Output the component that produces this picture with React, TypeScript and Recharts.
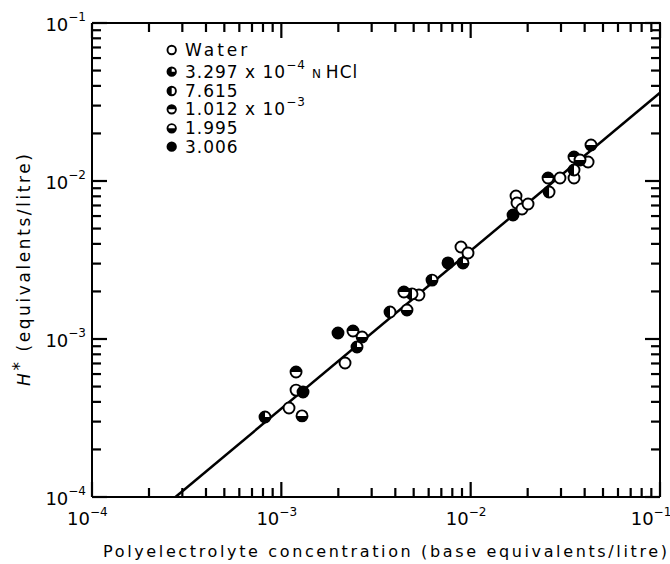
import React from 'react';
import { ScatterChart, Scatter, XAxis, YAxis, Label } from 'recharts';

type Pt = { c: number; h: number };

// Polyelectrolyte concentration (c) vs H* for each supporting acid level
const water: Pt[] = [
  { c: 1.098e-3, h: 3.66e-4 }, { c: 1.196e-3, h: 4.75e-4 }, { c: 2.17e-3, h: 7.05e-4 },
  { c: 5.33e-3, h: 1.9e-3 }, { c: 8.89e-3, h: 3.82e-3 }, { c: 9.68e-3, h: 3.5e-3 },
  { c: 1.736e-2, h: 8.04e-3 }, { c: 1.757e-2, h: 7.26e-3 }, { c: 1.867e-2, h: 6.65e-3 },
  { c: 2.009e-2, h: 7.15e-3 }, { c: 2.963e-2, h: 1.045e-2 }, { c: 3.514e-2, h: 1.045e-2 },
  { c: 4.17e-2, h: 1.319e-2 },
];
const hcl3297: Pt[] = [
  { c: 8.2e-4, h: 3.21e-4 }, { c: 2.51e-3, h: 8.9e-4 }, { c: 6.25e-3, h: 2.36e-3 },
  { c: 9.11e-3, h: 3.03e-3 },
];
const hcl7615: Pt[] = [
  { c: 3.75e-3, h: 1.482e-3 }, { c: 4.9e-3, h: 1.93e-3 }, { c: 2.594e-2, h: 8.52e-3 },
  { c: 3.514e-2, h: 1.174e-2 },
];
const hcl1012: Pt[] = [
  { c: 1.196e-3, h: 6.18e-4 }, { c: 2.39e-3, h: 1.124e-3 }, { c: 4.44e-3, h: 1.984e-3 },
  { c: 2.563e-2, h: 1.045e-2 }, { c: 3.514e-2, h: 1.418e-2 },
];
const hcl1995: Pt[] = [
  { c: 1.286e-3, h: 3.26e-4 }, { c: 2.67e-3, h: 1.03e-3 }, { c: 4.61e-3, h: 1.526e-3 },
  { c: 3.78e-2, h: 1.358e-2 }, { c: 4.32e-2, h: 1.69e-2 },
];
const hcl3006: Pt[] = [
  { c: 1.302e-3, h: 4.62e-4 }, { c: 1.992e-3, h: 1.092e-3 }, { c: 7.59e-3, h: 3.03e-3 },
  { c: 1.674e-2, h: 6.09e-3 },
];

// Fitted straight line (unit slope on log-log axes)
const fitLine: Pt[] = [
  { c: 2.76e-4, h: 1.0e-4 },
  { c: 1.0e-1, h: 3.62e-2 },
];

// Axis ticks: decades plus 2..9 minor steps
const decades = [1e-4, 1e-3, 1e-2, 1e-1];
const minorSteps = [2, 3, 4, 5, 6, 7, 8, 9];
const decadeExponents = ['−4', '−3', '−2', '−1'];
const allTicks: number[] = [];
decades.forEach((d, i) => {
  allTicks.push(d);
  if (i < decades.length - 1) minorSteps.forEach((m) => allTicks.push(d * m));
});
const LO = decades[0];
const HI = decades[decades.length - 1];

// Top and right edges of the frame, plus anchor points for their tick marks
const frameCorners: Pt[] = [{ c: LO, h: HI }, { c: HI, h: HI }, { c: HI, h: LO }];
const topEdge: Pt[] = allTicks.map((v) => ({ c: v, h: HI }));
const rightEdge: Pt[] = allTicks.map((v) => ({ c: HI, h: v }));

const FONT = '"DejaVu Sans", sans-serif';
const CHART_W = 670;
const CHART_H = 564;
const MAJOR_LEN = 15;
const MINOR_LEN = 9;
const TICK_W = 2.2;
const INK = '#000';

const majorIndex = (v: number) => decades.findIndex((d) => Math.abs(v / d - 1) < 1e-6);
const tickLen = (v: number) => (majorIndex(v) >= 0 ? MAJOR_LEN : MINOR_LEN);

type Kind = 'open' | 'threeq' | 'left' | 'top' | 'bottom' | 'full';

function Marker({ cx, cy, kind, r = 5.5 }: { cx: number; cy: number; kind: Kind; r?: number }) {
  if (cx == null || cy == null) return null;
  let d: string | null = null;
  if (kind === 'left') d = `M${cx},${cy - r} A${r},${r} 0 0 0 ${cx},${cy + r} Z`;
  if (kind === 'top') d = `M${cx - r},${cy} A${r},${r} 0 0 1 ${cx + r},${cy} Z`;
  if (kind === 'bottom') d = `M${cx - r},${cy} A${r},${r} 0 0 0 ${cx + r},${cy} Z`;
  if (kind === 'threeq') d = `M${cx},${cy} L${cx},${cy - r} A${r},${r} 0 1 0 ${cx + r},${cy} Z`;
  return (
    <g>
      <circle cx={cx} cy={cy} r={r} fill={kind === 'full' ? '#000' : '#fff'} stroke="#000" strokeWidth={1.9} />
      {d && <path d={d} fill="#000" />}
    </g>
  );
}

const shapeOf = (kind: Kind) => (p: any) => <Marker cx={p.cx} cy={p.cy} kind={kind} />;

// Tick marks hanging down from the top edge / pointing left from the right edge
const topTickShape = (p: any) => {
  const len = tickLen(Number(p.payload?.c));
  return <rect x={p.cx - TICK_W / 2} y={p.cy} width={TICK_W} height={len} fill={INK} />;
};
const rightTickShape = (p: any) => {
  const len = tickLen(Number(p.payload?.h));
  return <rect x={p.cx - len} y={p.cy - TICK_W / 2} width={len} height={TICK_W} fill={INK} />;
};

const LABEL_FS = 18;
const SUP_FS = 12;
const TEN_W = 2 * 0.636 * LABEL_FS;
const SUP_W = 1.5 * 0.8 * SUP_FS;

// Bottom axis: inward tick plus decade label
function BottomTick(props: any) {
  const x = Number(props.x);
  const y = Number(props.y);
  const v = Number(props.payload?.value);
  const i = majorIndex(v);
  const len = tickLen(v);
  const start = Math.min(x - TEN_W - 2, CHART_W - TEN_W - SUP_W - 2);
  return (
    <g>
      <rect x={x - TICK_W / 2} y={y - len} width={TICK_W} height={len} fill={INK} />
      {i >= 0 && (
        <text x={start} y={y + 28} textAnchor="start" fontFamily={FONT} fontSize={LABEL_FS} fill="#000">
          10<tspan dy={-9} fontSize={SUP_FS}>{decadeExponents[i]}</tspan>
        </text>
      )}
    </g>
  );
}

// Left axis: inward tick plus decade label
function LeftTick(props: any) {
  const x = Number(props.x);
  const y = Number(props.y);
  const v = Number(props.payload?.value);
  const i = majorIndex(v);
  const len = tickLen(v);
  return (
    <g>
      <rect x={x} y={y - TICK_W / 2} width={len} height={TICK_W} fill={INK} />
      {i >= 0 && (
        <text x={x - 6} y={y + 8} textAnchor="end" fontFamily={FONT} fontSize={LABEL_FS} fill="#000">
          10<tspan dy={-10} fontSize={SUP_FS}>{decadeExponents[i]}</tspan>
        </text>
      )}
    </g>
  );
}

function XTitle({ viewBox }: any) {
  const cx = viewBox.x + viewBox.width / 2 + 9;
  return (
    <text
      x={cx}
      y={viewBox.y + 60}
      textAnchor="middle"
      fontFamily={FONT}
      fontSize={16}
      textLength={564}
      lengthAdjust="spacing"
      fill="#000"
    >
      Polyelectrolyte concentration (base equivalents/litre)
    </text>
  );
}

function YTitle({ viewBox }: any) {
  const cy = viewBox.y + viewBox.height / 2 + 10;
  const x = viewBox.x - 2;
  return (
    <text
      x={x}
      y={cy}
      transform={`rotate(-90 ${x} ${cy})`}
      textAnchor="middle"
      fontFamily={FONT}
      fontSize={17}
      textLength={232}
      lengthAdjust="spacing"
      fill="#000"
    >
      <tspan fontStyle="italic">H</tspan>
      <tspan dy={-5}>*</tspan>
      <tspan dy={5}> (equivalents/litre)</tspan>
    </text>
  );
}

type LegendRow = { kind: Kind; main: string; sup?: string; tail?: boolean; spacing?: number };
const legendRows: LegendRow[] = [
  { kind: 'open', main: 'Water', spacing: 3 },
  { kind: 'threeq', main: '3.297 x 10', sup: '−4', tail: true },
  { kind: 'left', main: '7.615' },
  { kind: 'top', main: '1.012 x 10', sup: '−3' },
  { kind: 'bottom', main: '1.995' },
  { kind: 'full', main: '3.006' },
];

function LegendBox() {
  const rowY = [12, 33.7, 53, 71.3, 90.3, 108.7];
  return (
    <svg
      width={230}
      height={125}
      style={{ position: 'absolute', left: 160, top: 38, overflow: 'visible', pointerEvents: 'none' }}
    >
      {legendRows.map((row, i) => (
        <g key={i}>
          <Marker cx={11.7} cy={rowY[i]} kind={row.kind} r={4.2} />
          <text
            x={25}
            y={rowY[i] + 6}
            fontFamily={FONT}
            fontSize={17}
            letterSpacing={row.spacing ?? 1}
            fill="#000"
          >
            {row.main}
            {row.sup && (
              <tspan dy={-9} fontSize={12}>
                {row.sup}
              </tspan>
            )}
            {row.tail && (
              <>
                <tspan dy={9} dx={6} fontSize={12}>N</tspan>
                <tspan dx={4}>HCl</tspan>
              </>
            )}
          </text>
        </g>
      ))}
    </svg>
  );
}

export default function App() {
  return (
    <div style={{ position: 'absolute', left: 0, top: 0, width: CHART_W, height: CHART_H }}>
      <ScatterChart width={CHART_W} height={CHART_H} margin={{ top: 23, right: 10, bottom: 37, left: 32 }}>
        <XAxis
          xAxisId="b"
          dataKey="c"
          type="number"
          scale="log"
          domain={[LO, HI]}
          ticks={allTicks}
          interval={0}
          height={30}
          tickSize={0}
          tickMargin={0}
          tickLine={false}
          tick={<BottomTick />}
          axisLine={{ stroke: '#000', strokeWidth: 2 }}
        >
          <Label content={<XTitle />} />
        </XAxis>
        <YAxis
          yAxisId="l"
          dataKey="h"
          type="number"
          scale="log"
          domain={[LO, HI]}
          ticks={allTicks}
          interval={0}
          width={60}
          tickSize={0}
          tickMargin={0}
          tickLine={false}
          tick={<LeftTick />}
          axisLine={{ stroke: '#000', strokeWidth: 2 }}
        >
          <Label content={<YTitle />} />
        </YAxis>
        <Scatter
          xAxisId="b"
          yAxisId="l"
          data={frameCorners}
          line={{ stroke: '#000', strokeWidth: 2 }}
          shape={() => <g />}
          isAnimationActive={false}
        />
        <Scatter xAxisId="b" yAxisId="l" data={topEdge} shape={topTickShape} isAnimationActive={false} />
        <Scatter xAxisId="b" yAxisId="l" data={rightEdge} shape={rightTickShape} isAnimationActive={false} />
        <Scatter
          xAxisId="b"
          yAxisId="l"
          data={fitLine}
          line={{ stroke: '#000', strokeWidth: 2.5 }}
          shape={() => <g />}
          isAnimationActive={false}
        />
        <Scatter xAxisId="b" yAxisId="l" data={water} shape={shapeOf('open')} isAnimationActive={false} />
        <Scatter xAxisId="b" yAxisId="l" data={hcl3297} shape={shapeOf('threeq')} isAnimationActive={false} />
        <Scatter xAxisId="b" yAxisId="l" data={hcl7615} shape={shapeOf('left')} isAnimationActive={false} />
        <Scatter xAxisId="b" yAxisId="l" data={hcl1012} shape={shapeOf('top')} isAnimationActive={false} />
        <Scatter xAxisId="b" yAxisId="l" data={hcl1995} shape={shapeOf('bottom')} isAnimationActive={false} />
        <Scatter xAxisId="b" yAxisId="l" data={hcl3006} shape={shapeOf('full')} isAnimationActive={false} />
      </ScatterChart>
      <LegendBox />
    </div>
  );
}
